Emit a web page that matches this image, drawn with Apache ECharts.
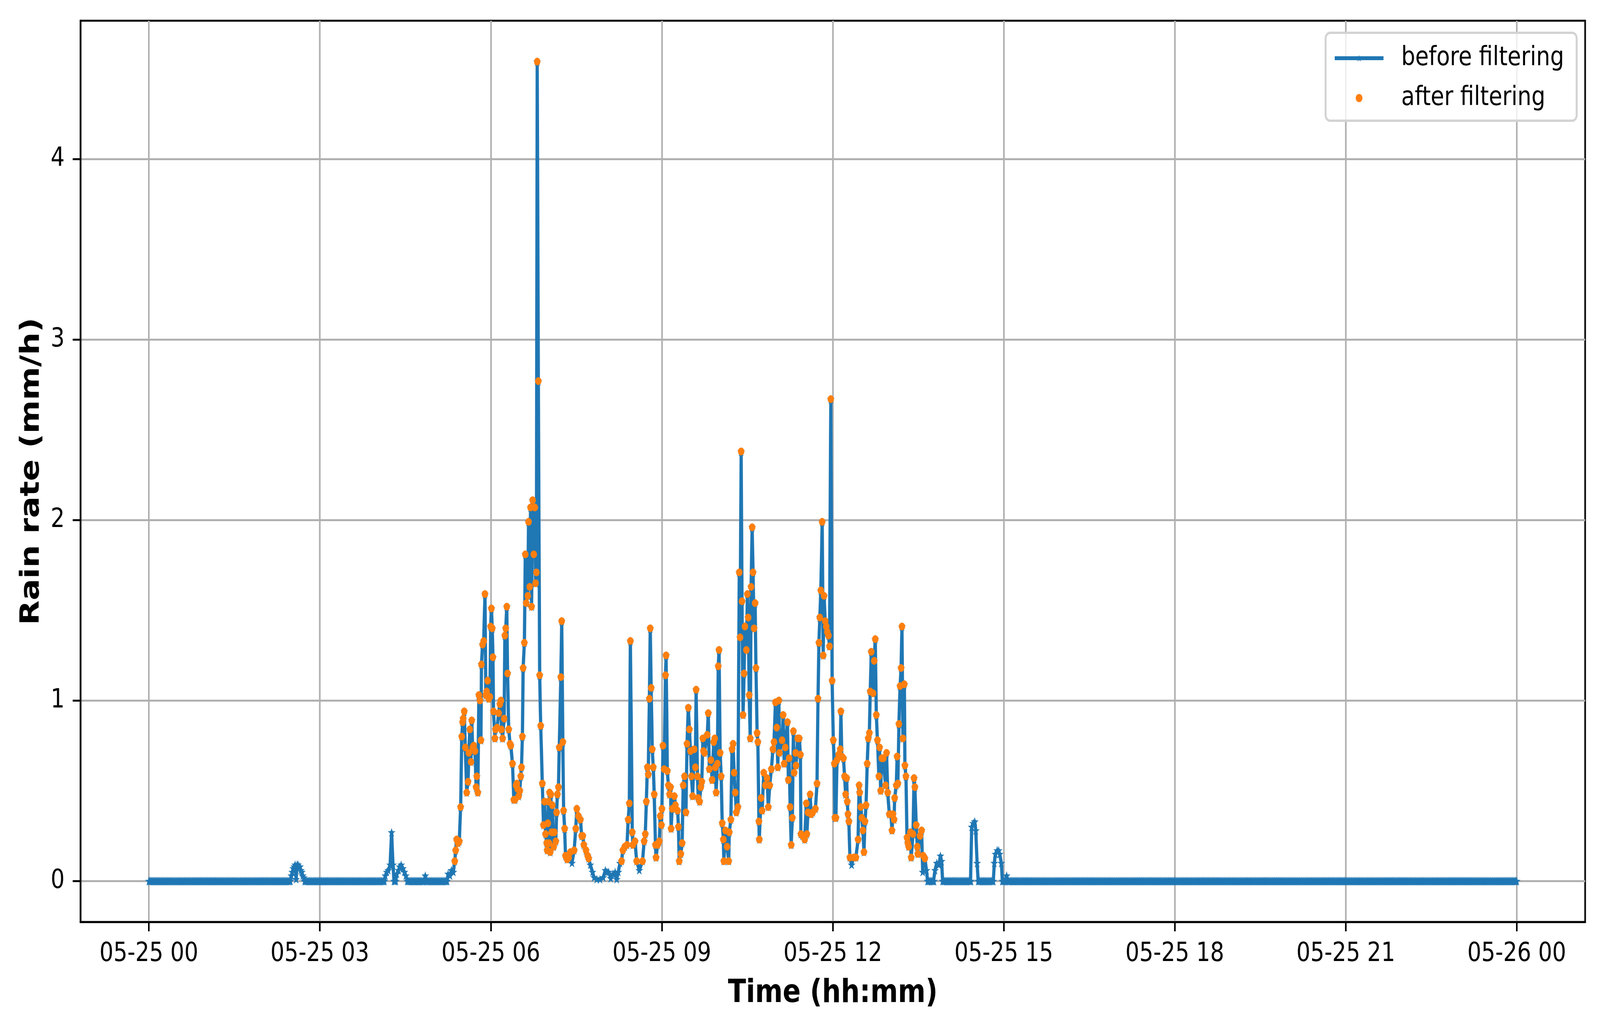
<!DOCTYPE html>
<html>
<head>
<meta charset="utf-8">
<title>Rain rate before / after filtering</title>
<script src="https://cdn.jsdelivr.net/npm/echarts@6/dist/echarts.min.js"></script>
<style>
  html, body { margin: 0; padding: 0; background: #ffffff; overflow: hidden; }
  #chart { width: 4951px; height: 2634px; transform-origin: 0 0; }
</style>
</head>
<body>
<div id="chart"></div>
<script>
// ---------- DATA (time = minutes after 05-25 00:00, value = rain rate in mm/h) ----------
// Logger cadence of the zero baseline (one reading per minute over the whole day)
const dayStartMin = 0;
const dayEndMin = 1440;
const baselineStepMin = 1;

// Small isolated events before the main rain event
const ev0235 = [[149,0],[150,0.03],[151,0.05],[152,0.07],[153,0.08],[154,0.09],[155,0.01],[156,0.09],[157,0.09],[158,0.08],[159,0.08],[160,0.06],[161,0.05],[162,0.03],[163,0.02],[164,0]];
const ev0416 = [[248,0],[249,0.03],[250.5,0.05],[252,0.06],[254,0.09],[255.5,0.27],[257,0.09],[258,0]];
const ev0426 = [[260,0],[261,0.04],[262.8,0.06],[264,0.08],[265.6,0.09],[267.4,0.07],[269,0.05],[270.5,0.03],[272,0]];
const ev0451 = [[290,0],[291,0.03],[292,0]];

// Main rain event, split in two-hour blocks
const seg0514 = [[314,0],[315,0.04],[317,0.03],[318.5,0.06],[320.5,0.05],[322,0.11],[323,0.17],[324,0.23],[325.5,0.21],[326.8,0.22],
  [328.2,0.41],[329.4,0.80],[330.3,0.88],[330.9,0.90],[332,0.94],[333.1,0.74],[334.6,0.49],[336,0.55],[336.8,0.71],[337.9,0.84],
  [339.1,0.66],[339.9,0.89],[340.8,0.74],[342,0.75],[343.3,0.72],[344.5,0.52],[345.2,0.58],[346.3,0.49],[347.4,1.03],[348.6,1.00],
  [349.6,0.78],[350.1,1.20],[351.3,1.31],[352.5,1.33],[353.8,1.59],[354.7,1.03],[355.6,1.05],[356.6,1.11],[357.9,1.01],[359,1.02],
  [359.8,1.41],[360.6,1.51],[361.5,1.40],[362.2,1.24],[362.8,0.94],[364.3,0.79],[364.9,0.84],[366.5,0.85],[368.3,0.93],[369.5,0.98],
  [370.6,1.00],[371.2,0.84],[372.4,0.79],[374,0.90],[374.8,1.36],[375.7,1.40],[376.8,1.52],[377.6,1.15],[378.8,0.84],[380.2,0.76],
  [381,0.75],[382.8,0.65],[384.2,0.45],[385.5,0.45],[386.5,0.53],[387.4,0.54],[388.2,0.51],[389.3,0.47],[390.5,0.50],[391.5,0.58],
  [392.3,0.63],[393.2,0.80],[394,1.18],[395.3,1.32],[396.3,1.81],[397.2,1.54],[398.9,1.58],[399.7,1.99],[400.9,1.63],[401.8,2.07],
  [402.9,1.52],[404,2.11],[405.2,1.81],[406.3,2.07],[407.1,1.65],[408,1.71],[408.8,4.54],[410,2.77],[411.4,1.14],[412.5,0.86],
  [414.2,0.54],[415.4,0.31],[416.5,0.44],[417.6,0.26],[418.8,0.21],[419.3,0.17]];
const seg0700 = [[420,0.32],[420.6,0.44],[421.2,0.21],[421.8,0.49],[422.5,0.16],[423.2,0.48],[424,0.27],[424.8,0.42],[425.6,0.27],[426.2,0.19],
  [426.9,0.27],[428.4,0.22],[429.2,0.38],[430.1,0.48],[431.2,0.52],[432,0.74],[433.7,1.13],[434.6,1.44],[435.8,0.77],[436.6,0.39],
  [437.7,0.29],[438.6,0.14],[440.3,0.12],[442,0.13],[443.7,0.16],[445.4,0.10],[447.7,0.17],[449.4,0.29],[450.5,0.40],[452.2,0.36],
  [454.3,0.34],[455.6,0.25],[456.8,0.25],[457.9,0.20],[460.2,0.17],[461.9,0.14],[463,0.125],[464.7,0.09],[467,0.05],[468.7,0.02],
  [471.5,0.01],[474.9,0.01],[478.3,0.02],[480.6,0.06],[482.3,0.05],[484,0.05],[486.2,0.015],[488.5,0.04],[490.8,0.05],[492.5,0.01],
  [494.2,0.05],[495.9,0.10],[497.6,0.11],[499,0.17],[501,0.19],[503.3,0.20],[504.6,0.34],[505.8,0.43],[506.9,1.33],[508.9,0.27],
  [509.5,0.20],[511.8,0.22],[513.5,0.11],[516.3,0.06],[519.7,0.11],[521.4,0.22],[522.6,0.26],[523.7,0.44],[524.8,0.63],[525.7,0.59],
  [526.9,1.01],[527.8,1.40],[528.8,1.07],[529.9,0.73],[531,0.63],[532,0.48],[533.3,0.20],[533.9,0.13],[535.6,0.20],[537.3,0.22],
  [538.4,0.36],[539.6,0.31]];
const seg0900 = [[540.1,0.40],[541.2,0.75],[542.4,0.62],[543.9,1.14],[544.5,1.25],[545.8,0.61],[546.9,0.53],[548.1,0.48],[549.2,0.52],[549.8,0.29],
  [550.9,0.40],[553.2,0.47],[554.3,0.42],[556.6,0.39],[557.5,0.30],[558.3,0.11],[560,0.15],[561.4,0.21],[562.5,0.53],[563.9,0.58],
  [565.4,0.38],[566.5,0.76],[567.9,0.96],[569,0.84],[570.2,0.72],[571.3,0.58],[572.4,0.47],[574.1,0.73],[575.3,0.63],[576.1,1.06],
  [577.5,0.58],[578.3,0.46],[579.8,0.44],[581,0.52],[582.1,0.55],[583.2,0.79],[583.8,0.72],[584.9,0.71],[587.8,0.81],[588.9,0.93],
  [590,0.62],[591.7,0.67],[592.9,0.56],[594.6,0.77],[595.7,0.79],[596.3,0.63],[597.2,0.49],[598.5,0.65],[599.4,1.19],[600.2,1.28],
  [601.4,0.71],[602.5,0.58],[603.6,0.32],[604.8,0.23],[605.3,0.11],[607,0.28],[608.7,0.19],[610.4,0.11],[611,0.27],[612.7,0.34],
  [613.9,0.73],[615,0.76],[616.1,0.60],[617.3,0.49],[618.4,0.38],[620.1,0.41],[621.5,1.71],[622.4,1.35],[623.5,2.38],[624.4,1.55],
  [625.5,0.92],[626.6,1.15],[627.5,1.41],[629,1.28],[630.1,1.59],[630.9,1.46],[632,1.03],[633.1,0.79],[634,1.63],[635.1,1.96],
  [636,1.71],[637.1,1.40],[638.2,1.54],[639.1,1.18],[640.3,0.82],[641.1,0.77],[642.2,0.33],[642.6,0.23],[644.5,0.46],[645.6,0.39],
  [647.3,0.60],[649,0.53],[650.7,0.57],[652.1,0.41],[653.6,0.53],[655.3,0.62],[657,0.73],[658.1,0.77],[659.6,0.99]];
const seg1100 = [[661,0.85],[662.1,0.63],[663.2,1.00],[663.9,0.71],[666.6,0.78],[667.7,0.92],[668.8,0.65],[670,0.74],[672.3,0.88],[673.2,0.56],
  [674,0.68],[675.1,0.41],[676.2,0.20],[677.4,0.35],[678.5,0.83],[679.3,0.60],[680.8,0.71],[681.3,0.64],[683,0.79],[684.7,0.79],
  [685.9,0.70],[686.4,0.26],[688.1,0.25],[690.4,0.23],[692.1,0.43],[692.7,0.26],[693.8,0.38],[696.1,0.48],[697.2,0.37],[698.9,0.38],
  [701.7,0.40],[703.4,0.54],[704.4,1.01],[705.4,1.32],[706.3,1.46],[707.4,1.61],[708.8,1.99],[709.9,1.25],[710.8,1.58],[712,1.44],
  [713.1,1.41],[714.2,1.38],[715.4,1.36],[716.5,1.30],[717.9,2.67],[719.3,1.11],[720.5,0.78],[721.6,0.65],[722.2,0.35],[723.3,0.35],
  [724.4,0.67],[726.1,0.70],[727.8,0.73],[728.5,0.94],[729.5,0.69],[731.2,0.68],[732.4,0.58],[733.5,0.48],[734.6,0.57],[735.2,0.44],
  [736,0.37],[736.9,0.33],[738,0.13],[739.8,0.09],[742,0.13],[744.3,0.13],[746.6,0.23],[747.7,0.53],[748.3,0.49],[749.4,0.41],
  [750.5,0.35],[751.7,0.28],[752.8,0.16],[753.9,0.33],[755,0.42],[756.2,0.65],[757.3,0.79],[758.5,0.82],[759.4,1.05],[760.5,1.27],
  [762.4,1.04],[763.6,1.22],[764.7,1.34],[765.8,0.92],[767,0.78],[768.5,0.58],[769.2,0.74],[770.4,0.50],[771.5,0.68],[773.2,0.68],
  [775.5,0.53],[776.6,0.71],[777.8,0.49],[779.5,0.37]];
const seg1300 = [[781.2,0.37],[782.3,0.28],[783.4,0.37],[784.5,0.34],[785.1,0.46],[786.8,0.53],[787.7,0.69],[788.5,0.54],[789.6,0.87],[790.8,1.08],
  [791.9,1.18],[792.8,1.41],[793.8,0.79],[795.3,1.09],[795.9,0.64],[797,0.58],[798.1,0.24],[799,0.21],[799.9,0.19],[801.6,0.27],
  [802.5,0.13],[804.4,0.26],[805.5,0.57],[806.4,0.52],[807.8,0.31],[808.9,0.19],[809.5,0.15],[811.8,0.25],[813.5,0.28],[814.6,0.05],
  [815.2,0.14],[816.9,0.125],[818.6,0.06],[819.7,0]];

// Small isolated events after the main rain event
const ev1350 = [[826.5,0],[827.6,0.06],[829.4,0.10],[831.6,0.09],[833.3,0.14],[834.5,0.11],[835.6,0]];
const ev1429 = [[865.5,0],[866.2,0.30],[867.9,0.32],[869.4,0.33],[870.5,0.28],[871.9,0.10],[873,0]];
const ev1453 = [[889,0],[890,0.10],[891.2,0.15],[893,0.17],[894.6,0.17],[895.7,0.15],[897.4,0.10],[898.5,0]];
const ev1503 = [[902,0],[903,0.03],[904,0]];

// Filter used for the "after filtering" series (main event window, rate threshold)
const filterWindowMin = [320, 820];
const filterThreshold = 0.1;

// Axis ticks
const xTickValues = [0, 180, 360, 540, 720, 900, 1080, 1260, 1440];
const xTickLabels = ['05-25 00','05-25 03','05-25 06','05-25 09','05-25 12','05-25 15','05-25 18','05-25 21','05-26 00'];
const yTickValues = [0, 1, 2, 3, 4];

// ---------- BUILD SERIES ----------
const mainEvent = [].concat(seg0514, seg0700, seg0900, seg1100, seg1300);
const events = [ev0235, ev0416, ev0426, ev0451, mainEvent, ev1350, ev1429, ev1453, ev1503];
const spans = events.map(e => [e[0][0], e[e.length - 1][0]]);

const before = [];
for (let m = dayStartMin; m <= dayEndMin; m += baselineStepMin) {
  if (!spans.some(s => m >= s[0] && m <= s[1])) before.push([m, 0]);
}
events.forEach(e => e.forEach(p => before.push(p)));
before.sort((a, b) => a[0] - b[0]);

const after = before.filter(p => p[0] >= filterWindowMin[0] && p[0] <= filterWindowMin[1] && p[1] > filterThreshold);

// ---------- CHART ----------
// The chart is laid out on a 4951 x 2634 canvas and fitted to the actual viewport.
const box = document.getElementById('chart');
box.style.transform = 'scale(' + (window.innerWidth / 4951) + ',' + (window.innerHeight / 2634) + ')';

const FONT = 'DejaVu Sans';
const STAR = 'path://M0,-10 L2.245,-3.09 L9.511,-3.09 L3.633,1.18 L5.878,8.09 L0,3.82 L-5.878,8.09 L-3.633,1.18 L-9.511,-3.09 L-2.245,-3.09 Z';

const chart = echarts.init(box, null, { renderer: 'canvas', width: 4951, height: 2634 });
chart.setOption({
  animation: false,
  backgroundColor: '#ffffff',
  grid: {
    left: 249, right: 46, top: 53, bottom: 274,
    show: true, borderColor: '#000000', borderWidth: 5, backgroundColor: 'transparent'
  },
  legend: {
    left: 4102, top: 84,
    orient: 'vertical',
    padding: [30, 39, 23, 23],
    itemGap: 32,
    itemWidth: 151,
    itemHeight: 21,
    backgroundColor: 'rgba(255,255,255,0.8)',
    borderColor: '#d3d3d3',
    borderWidth: 6,
    borderRadius: 14,
    lineStyle: { width: 10 },
    textStyle: { fontFamily: FONT, fontSize: 68, color: '#000000', lineHeight: 70, padding: [0, 0, 0, 50] },
    data: ['before filtering', 'after filtering']
  },
  xAxis: {
    type: 'value',
    min: -72, max: 1512,
    name: 'Time (hh:mm)',
    nameLocation: 'middle',
    nameGap: 143,
    nameTextStyle: { fontFamily: FONT, fontSize: 82, fontWeight: 'bold', color: '#000000', lineHeight: 82 },
    axisLine: { show: true, onZero: false, lineStyle: { color: '#000000', width: 5 } },
    axisTick: { show: true, inside: false, length: 24, lineStyle: { color: '#000000', width: 5 }, customValues: xTickValues },
    axisLabel: {
      show: true, margin: 48, customValues: xTickValues,
      fontFamily: FONT, fontSize: 68, color: '#000000', lineHeight: 68,
      formatter: v => xTickLabels[xTickValues.indexOf(v)]
    },
    splitLine: { show: true, lineStyle: { color: '#b0b0b0', width: 5 } }
  },
  yAxis: {
    type: 'value',
    min: -0.227, max: 4.767,
    name: 'Rain rate (mm/h)',
    nameLocation: 'middle',
    nameGap: 109,
    nameTextStyle: { fontFamily: FONT, fontSize: 82, fontWeight: 'bold', color: '#000000', lineHeight: 82 },
    axisLine: { show: true, onZero: false, lineStyle: { color: '#000000', width: 5 } },
    axisTick: { show: true, inside: false, length: 24, lineStyle: { color: '#000000', width: 5 }, customValues: yTickValues },
    axisLabel: {
      show: true, margin: 49, customValues: yTickValues,
      fontFamily: FONT, fontSize: 68, color: '#000000',
      formatter: v => String(v)
    },
    splitLine: { show: true, lineStyle: { color: '#b0b0b0', width: 5 } }
  },
  series: [
    {
      name: 'before filtering',
      type: 'line',
      data: before,
      showSymbol: true,
      showAllSymbol: true,
      symbol: STAR,
      symbolSize: [24, 23],
      lineStyle: { color: '#1f77b4', width: 10, join: 'round' },
      itemStyle: { color: '#1f77b4', borderWidth: 0 },
      emphasis: { disabled: true },
      z: 2
    },
    {
      name: 'after filtering',
      type: 'scatter',
      data: after,
      symbol: 'circle',
      symbolSize: 20,
      itemStyle: { color: '#ff7f0e', opacity: 1 },
      emphasis: { disabled: true },
      z: 3
    }
  ]
});
</script>
</body>
</html>
